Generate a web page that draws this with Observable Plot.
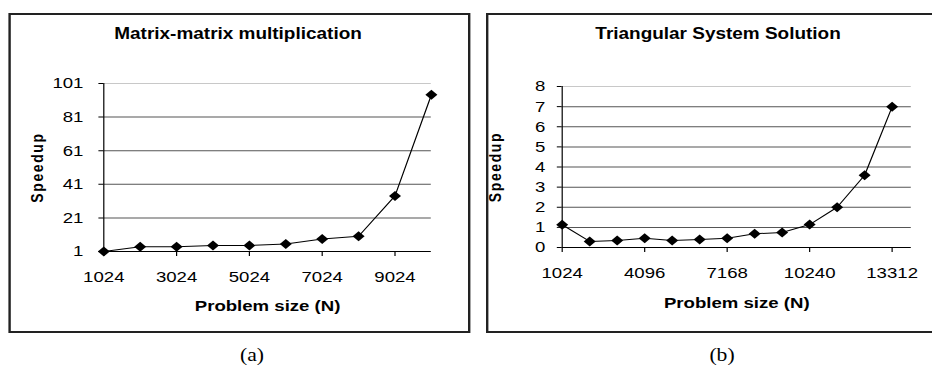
<!DOCTYPE html>
<html><head><meta charset="utf-8">
<script src="https://cdn.jsdelivr.net/npm/d3@7"></script>
<script src="https://cdn.jsdelivr.net/npm/@observablehq/plot@0.6"></script>
<style>
html,body{margin:0;padding:0;background:#fff;overflow:hidden;width:932px;height:367px;}
#stage{position:absolute;left:0;top:0;width:777px;height:367px;transform:scaleX(1.2);transform-origin:0 0;font-family:"Liberation Sans",Arial,sans-serif;color:#000;}
.panel{position:absolute;top:13px;height:320px;}
.panel svg{position:absolute;left:0;top:0;background:transparent;}
.border{position:absolute;left:0;top:0;right:0;bottom:0;box-sizing:border-box;border:2px solid #222;pointer-events:none;}
.title{position:absolute;width:300px;text-align:center;font-weight:bold;font-size:15.8px;line-height:16px;top:13px;white-space:nowrap;}
.caption{position:absolute;width:60px;text-align:center;font-family:"Liberation Serif","Times New Roman",serif;font-size:18px;line-height:18px;top:346px;}
g[aria-label="y-axis label"] text{letter-spacing:1.6px;}
</style>
</head><body>
<div id="stage">
  <div class="panel" id="pa" style="left:6.7px;width:385px;"></div>
  <div class="panel" id="pb" style="left:404.8px;width:380px;"></div>
  <div class="caption" style="left:180px;">(a)</div>
  <div class="caption" style="left:571.7px;">(b)</div>
</div>
<script>
// ---- Data: (a) Matrix-matrix multiplication ----
const matTitle = "Matrix-matrix multiplication";
const matN = [1024, 2024, 3024, 4024, 5024, 6024, 7024, 8024, 9024, 10024];
const matSpeedup = [1, 3.8, 3.8, 4.6, 4.6, 5.4, 8.5, 10.1, 34.1, 94.3];
const matXTicks = [1024, 3024, 5024, 7024, 9024];
const matYTicks = [1, 21, 41, 61, 81, 101];

// ---- Data: (b) Triangular System Solution ----
const triTitle = "Triangular System Solution";
const triN = [1024, 2048, 3072, 4096, 5120, 6144, 7168, 8192, 9216, 10240, 11264, 12288, 13312];
const triSpeedup = [1.13, 0.3, 0.35, 0.46, 0.35, 0.4, 0.46, 0.68, 0.75, 1.14, 2.0, 3.59, 6.99];
const triXTicks = [1024, 4096, 7168, 10240, 13312];
const triYTicks = [0, 1, 2, 3, 4, 5, 6, 7, 8];

const yLabel = "Speedup";
const xLabel = "Problem size (N)";

function panel(el, {title, titleCenter, N, S, xTicks, yTicks, xMax, width, margins, yPad, xLabelOffset}) {
  const data = N.map((n, i) => ({n, s: S[i]}));
  const yMin = yTicks[0], yMax = yTicks[yTicks.length - 1];
  const chart = Plot.plot({
    width, height: 320,
    ...margins,
    style: {background: "transparent", fontFamily: '"Liberation Sans", Arial, sans-serif', color: "#000"},
    x: {domain: [N[0], xMax]},
    y: {domain: [yMin, yMax]},
    marks: [
      Plot.ruleY(yTicks.slice(1, -1), {stroke: "#555", strokeWidth: 1}),
      Plot.ruleY([yMax], {stroke: "#c8c8c8", strokeWidth: 1}),
      Plot.ruleY([yMin], {stroke: "#000", strokeWidth: 1}),
      Plot.ruleX([N[0]], {stroke: "#000", strokeWidth: 1}),
      Plot.axisY({ticks: yTicks, label: null, tickSize: 4, tickPadding: yPad, fontSize: 15.5}),
      Plot.axisY({ticks: [], label: yLabel, labelAnchor: "center", labelArrow: "none", labelOffset: 61, fontSize: 14, fontWeight: "bold"}),
      Plot.axisX({ticks: xTicks, label: null, tickSize: 5, tickPadding: 14, fontSize: 15.5, tickFormat: d => String(d)}),
      Plot.axisX({ticks: [], label: xLabel, labelAnchor: "center", labelArrow: "none", labelOffset: xLabelOffset, fontSize: 15.5, fontWeight: "bold"}),
      Plot.line(data, {x: "n", y: "s", stroke: "#000", strokeWidth: 1}),
      Plot.dot(data, {x: "n", y: "s", symbol: "diamond2", r: 4.5, fill: "#000", stroke: "none"})
    ]
  });
  el.appendChild(chart);
  const b = document.createElement("div"); b.className = "border"; el.appendChild(b);
  const t = document.createElement("div"); t.className = "title"; t.textContent = title;
  t.style.left = (titleCenter - 150) + "px"; el.appendChild(t);
}

panel(document.getElementById("pa"), {
  title: matTitle, titleCenter: 191.7, N: matN, S: matSpeedup, xTicks: matXTicks, yTicks: matYTicks,
  xMax: matN[matN.length - 1], width: 385, yPad: 13, xLabelOffset: 59,
  margins: {marginLeft: 79, marginRight: 33, marginTop: 70, marginBottom: 82}
});
panel(document.getElementById("pb"), {
  title: triTitle, titleCenter: 193.6, N: triN, S: triSpeedup, xTicks: triXTicks, yTicks: triYTicks,
  xMax: 14030, width: 380, yPad: 10, xLabelOffset: 60,
  margins: {marginLeft: 63, marginRight: 26, marginTop: 73, marginBottom: 86}
});
</script>
</body></html>
